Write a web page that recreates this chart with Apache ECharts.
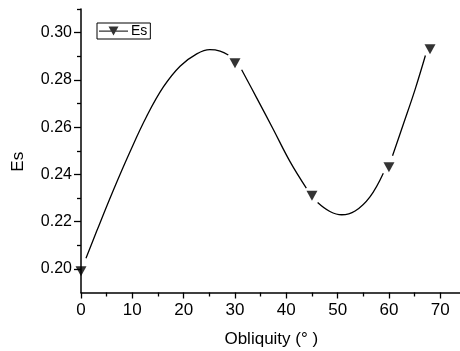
<!DOCTYPE html>
<html>
<head>
<meta charset="utf-8">
<script src="https://cdn.jsdelivr.net/npm/echarts@6/dist/echarts.min.js"></script>
<style>
html,body{margin:0;padding:0;background:#fff;}
#chart{width:460px;height:351px;}
</style>
</head>
<body>
<div id="chart"></div>
<script>
// Measured data points (markers)
var markerX = [0, 30, 45, 60, 68];
var markerY = [0.199, 0.287, 0.231, 0.243, 0.293];

// Fitted curve (null = gap around a marker)
var curveX = [0.97, 3.06, 6.3, 9.55, 12.8, 16.05, 19.3, 22.55, 25.1, 27.1, 28.7, null,
              31.3, 34.2, 37.5, 40.7, 43.9, null,
              46.1, 48.5, 50.8, 53.4, 56.3, 58.9, null,
              60.7, 62.8, 65.1, 67.1];
var curveY = [0.2045, 0.2160, 0.2333, 0.2496, 0.2646, 0.2770, 0.2858, 0.2910, 0.2928, 0.2922, 0.2905, null,
              0.2843, 0.2725, 0.2589, 0.2455, 0.2342, null,
              0.2281, 0.2243, 0.2229, 0.2245, 0.2305, 0.2405, null,
              0.2479, 0.2612, 0.2760, 0.2903];

// Tick values
var yMajorTicks = [0.20, 0.22, 0.24, 0.26, 0.28, 0.30];
var yMinorTicks = [0.21, 0.23, 0.25, 0.27, 0.29, 0.31];

var seriesName = 'Es';
var xTitle = 'Obliquity (\u00b0 )';
var yTitle = 'Es';

var FONT = 'Liberation Sans, Arial, sans-serif';

var curveData = curveX.map(function (x, i) {
  return x === null ? '-' : [x, curveY[i]];
});
var markerData = markerX.map(function (x, i) { return [x, markerY[i]]; });

var chart = echarts.init(document.getElementById('chart'), null, {renderer: 'canvas'});
chart.setOption({
  animation: false,
  backgroundColor: '#fff',
  textStyle: {fontFamily: FONT, color: '#000'},
  grid: {left: 81, width: 410.6, top: 9, bottom: 58.5, containLabel: false, outerBoundsMode: 'none'},
  legend: {
    left: 97, top: 23,
    padding: [1, 3, 1, 2],
    borderColor: '#000', borderWidth: 1,
    itemWidth: 29, itemHeight: 11, itemGap: 4,
    textStyle: {fontFamily: FONT, fontSize: 14, color: '#000', padding: [0, 0, 0, -2]},
    data: [{name: seriesName, icon: 'path://M0,5 H29 V6.3 H0 Z M9.5,1 H19.5 L14.5,10 Z'}]
  },
  xAxis: {
    type: 'value', min: 0, max: 80, interval: 10,
    name: xTitle, nameLocation: 'middle', nameGap: 38,
    nameTextStyle: {fontFamily: FONT, fontSize: 17, color: '#000', padding: [0, 30, 0, 0]},
    axisLine: {lineStyle: {color: '#000', width: 1.5}},
    axisTick: {inside: false, length: 6, lineStyle: {color: '#000', width: 1.3}},
    minorTick: {show: true, splitNumber: 2, length: 4, lineStyle: {color: '#000', width: 1.3}},
    axisLabel: {fontFamily: FONT, fontSize: 17, color: '#000', margin: 9},
    splitLine: {show: false}, minorSplitLine: {show: false}
  },
  yAxis: [{
    type: 'value', min: 0.19, max: 0.31,
    name: yTitle, nameLocation: 'middle', nameGap: 54,
    nameTextStyle: {fontFamily: FONT, fontSize: 17, color: '#000', padding: [0, 22, 0, 0]},
    axisLine: {show: true, lineStyle: {color: '#000', width: 1.5}},
    axisTick: {show: true, length: 7, customValues: yMajorTicks, lineStyle: {color: '#000', width: 1.3}},
    axisLabel: {fontFamily: FONT, fontSize: 16, color: '#000', margin: 9,
      customValues: yMajorTicks,
      formatter: function (v) { return v.toFixed(2); }},
    splitLine: {show: false}
  }, {
    type: 'value', min: 0.19, max: 0.31, position: 'left',
    axisLine: {show: false},
    axisTick: {show: true, length: 4, customValues: yMinorTicks, lineStyle: {color: '#000', width: 1.3}},
    axisLabel: {show: false},
    splitLine: {show: false}
  }],
  series: [{
    name: 'curve', type: 'line', data: curveData,
    smooth: 0.4, showSymbol: false, connectNulls: false,
    lineStyle: {color: '#000', width: 1.3},
    silent: true
  }, {
    name: seriesName, type: 'scatter', data: markerData,
    symbol: 'triangle', symbolRotate: 180, symbolSize: [11, 10],
    itemStyle: {color: '#000'}
  }]
});
</script>
</body>
</html>
